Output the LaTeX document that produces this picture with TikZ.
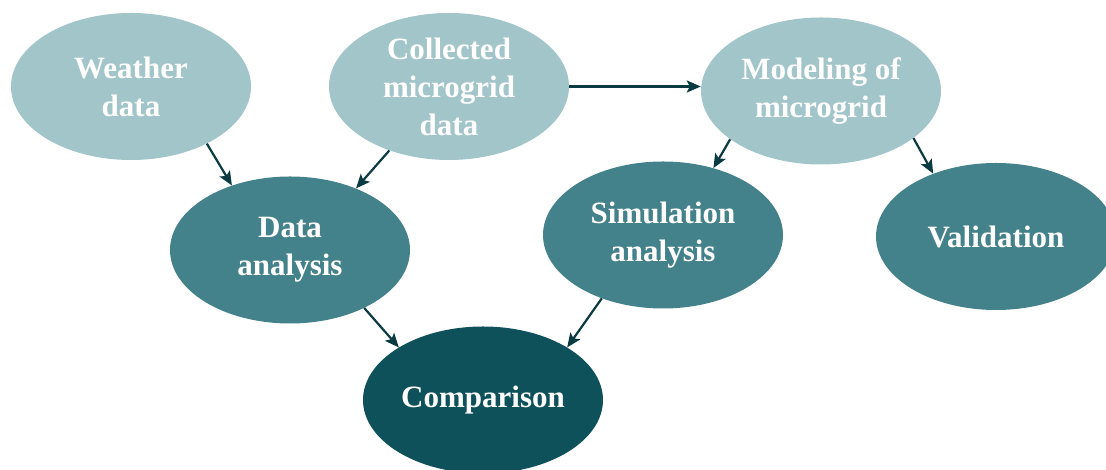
\documentclass[tikz,border=0pt]{standalone}
\usepackage{fontspec}
\setmainfont{Liberation Serif}
\usepackage{tikz}
\usetikzlibrary{arrows.meta,shapes.geometric}
\definecolor{lightteal}{HTML}{A2C5CA}
\definecolor{midteal}{HTML}{43818B}
\definecolor{darkteal}{HTML}{0E515B}
\definecolor{arrowteal}{HTML}{0A3A42}

\begin{document}
\begin{tikzpicture}[
        x=1pt, y=1pt,
        blob/.style={ellipse, minimum width=240pt, minimum height=147pt, inner sep=0pt,
            align=center, text=white, font=\bfseries\fontsize{31}{38}\selectfont},
        source/.style={blob, fill=lightteal},
        stage/.style={blob, fill=midteal},
        result/.style={blob, fill=darkteal},
        arrow/.style={-{Stealth[length=14pt, width=12pt, inset=3pt]}, line width=2.2pt, draw=arrowteal}
    ]

    \useasboundingbox (0,0) rectangle (1106,470);

    % Nodes
    \node[source] (weather) at (131,383.5) {Weather\\data};
    \node[source] (collected) at (449,383.5) {Collected\\microgrid\\data};
    \node[source] (modeling) at (821,379) {Modeling of\\microgrid};
    \node[stage] (analysis) at (290,220) {Data\\analysis};
    \node[stage] (simulation) at (663,235) {Simulation\\analysis};
    \node[stage] (validation) at (996,233.5) {Validation};
    \node[result] (comparison) at (483,70) {Comparison};

    % Arrows
    \draw[arrow] (weather.-37) -- (analysis.132);
    \draw[arrow] (collected.227) -- (analysis.43);
    \draw[arrow] (collected.east) -- (collected.east -| modeling.west);
    \draw[arrow] (modeling.208) -- (simulation.53);
    \draw[arrow] (modeling.-27) -- (validation.135);
    \draw[arrow] (analysis.-38) -- (comparison.148);
    \draw[arrow] (simulation.226) -- (comparison.32);

    \end{tikzpicture}
\end{document}
